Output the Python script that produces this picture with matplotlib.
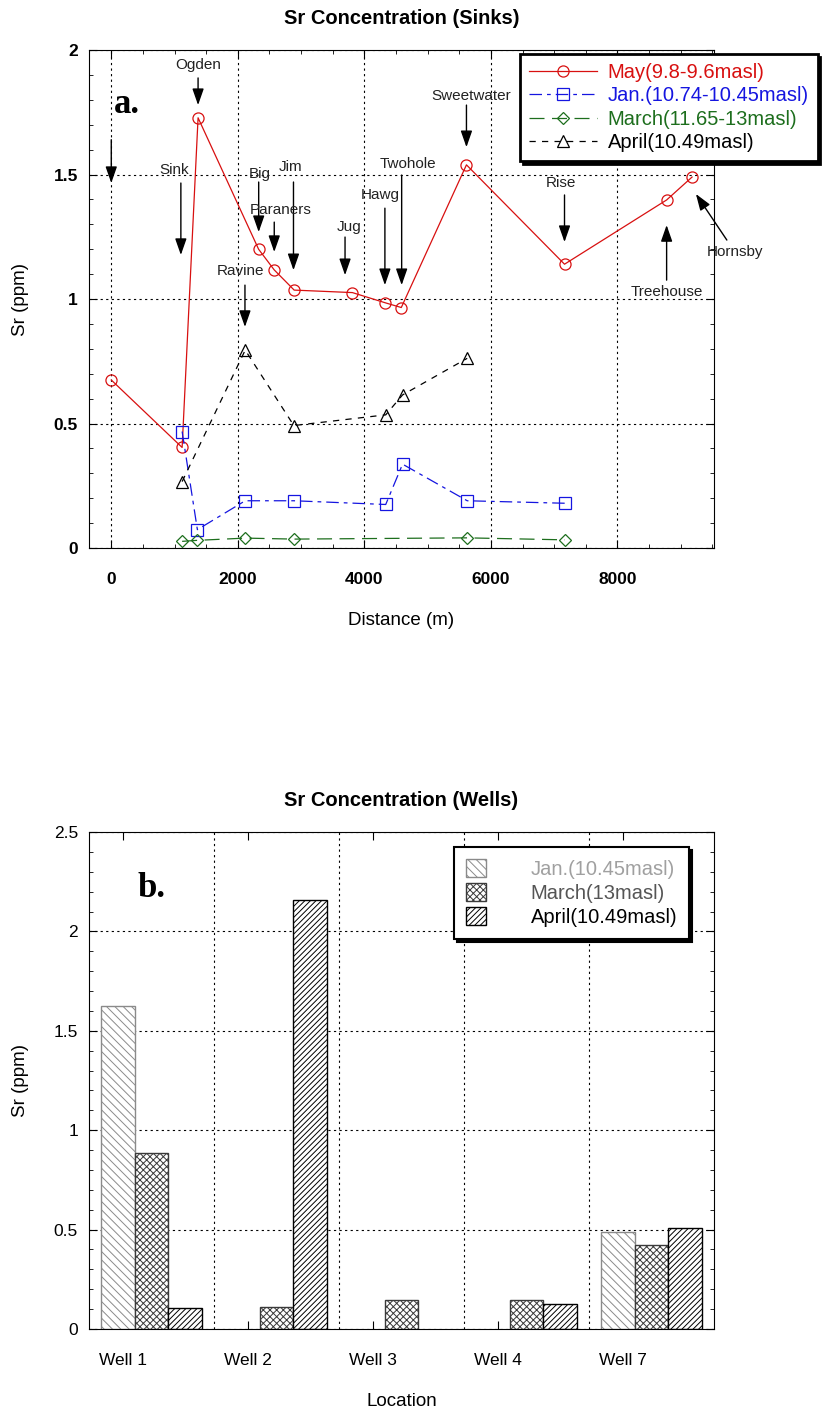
"""Sr concentration along the cave system (sinks) and in the wells."""

import matplotlib
matplotlib.use("Agg")
import matplotlib.pyplot as plt
import numpy as np
from matplotlib.ticker import MultipleLocator

plt.rcParams["font.family"] = ["Liberation Sans", "DejaVu Sans"]
plt.rcParams["hatch.linewidth"] = 0.7

# ---- panel a: sinks -------------------------------------------------------
may_x = [0, 1120, 1372, 2329, 2576, 2891, 3811, 4331, 4584, 5614, 7164, 8778, 9180]
may_sr = [0.675, 0.404, 1.728, 1.20, 1.117, 1.036, 1.026, 0.985, 0.966, 1.539,
          1.14, 1.398, 1.49]

jan_x = [1120, 1361, 2117, 2886, 4338, 4604, 5626, 7169]
jan_sr = [0.468, 0.074, 0.19, 0.19, 0.175, 0.337, 0.19, 0.18]

march_x = [1120, 1361, 2117, 2886, 5626, 7169]
march_sr = [0.027, 0.031, 0.040, 0.036, 0.041, 0.033]

april_x = [1120, 2117, 2886, 4338, 4604, 5626]
april_sr = [0.267, 0.795, 0.492, 0.535, 0.615, 0.762]

# site labels: (text, tail x, tail y, tip x, tip y, label x, label y)
sites = [
    ("", 0, 1.64, 0, 1.466, 0, 1.7),
    ("Sink", 1100, 1.466, 1100, 1.177, 1000, 1.518),
    ("Ogden", 1372, 1.888, 1372, 1.779, 1372, 1.94),
    ("Big", 2330, 1.47, 2330, 1.269, 2350, 1.502),
    ("Jim", 2880, 1.47, 2880, 1.116, 2835, 1.53),
    ("Paraners", 2576, 1.309, 2576, 1.189, 2670, 1.357),
    ("Ravine", 2113, 1.056, 2113, 0.888, 2050, 1.112),
    ("Jug", 3695, 1.249, 3695, 1.096, 3755, 1.289),
    ("Hawg", 4325, 1.365, 4325, 1.056, 4255, 1.418),
    ("Twohole", 4590, 1.498, 4590, 1.056, 4685, 1.542),
    ("Sweetwater", 5614, 1.779, 5614, 1.61, 5695, 1.815),
    ("Rise", 7164, 1.418, 7164, 1.229, 7110, 1.466),
    ("Treehouse", 8778, 1.076, 8778, 1.297, 8780, 1.028),
    ("Hornsby", 9730, 1.237, 9241, 1.422, 9860, 1.189),
]

# ---- panel b: wells -------------------------------------------------------
wells = ["Well 1", "Well 2", "Well 3", "Well 4", "Well 7"]
wells_jan = [1.626, np.nan, np.nan, np.nan, 0.488]
wells_march = [0.886, 0.111, 0.148, 0.148, 0.421]
wells_april = [0.106, 2.16, np.nan, 0.128, 0.507]

fig = plt.figure(figsize=(8.33, 14.14), dpi=100)

# ===================== panel a =====================
ax = fig.add_axes([0.107, 0.6124, 0.750, 0.3522])
l_may, = ax.plot(may_x, may_sr, "-", color="#d81010", lw=0.9, marker="o",
                 ms=8, mfc="none", mec="#d81010", mew=0.9)
l_jan, = ax.plot(jan_x, jan_sr, color="#1515e0", lw=0.9, dashes=(10, 4, 3, 4),
                 marker="s", ms=9, mfc="none", mec="#1515e0", mew=0.9)
l_mar, = ax.plot(march_x, march_sr, color="#1d6e1d", lw=0.9, dashes=(12, 6),
                 marker="D", ms=6, mfc="none", mec="#1d6e1d", mew=0.9)
l_apr, = ax.plot(april_x, april_sr, color="black", lw=0.9, dashes=(5, 5),
                 marker="^", ms=8, mfc="none", mec="black", mew=0.9)

for name, x0, y0, x1, y1, tx, ty in sites:
    ax.annotate("", xy=(x1, y1), xytext=(x0, y0), annotation_clip=False,
                arrowprops=dict(arrowstyle="-|>,head_length=1.0,head_width=0.35",
                                color="black", lw=1.0, shrinkA=0, shrinkB=0))
    if name:
        ax.text(tx, ty, name, ha="center", va="center", fontsize=11,
                color="#222222")

ax.text(0.061, 0.89, "a.", transform=ax.transAxes, ha="center", va="center",
        fontsize=25, fontweight="bold", family="Liberation Serif")

ax.set_xlim(-350, 9525)
ax.set_ylim(0, 2)
ax.xaxis.set_major_locator(MultipleLocator(2000))
ax.xaxis.set_minor_locator(MultipleLocator(500))
ax.yaxis.set_major_locator(MultipleLocator(0.5))
ax.yaxis.set_minor_locator(MultipleLocator(0.1))
ax.set_yticks([0, 0.5, 1, 1.5, 2], ["0", "0.5", "1", "1.5", "2"])
ax.tick_params(which="both", direction="in", top=True, right=True)
ax.tick_params(which="major", length=6, labelsize=12.5, pad=8)
ax.tick_params(axis="x", which="major", pad=17)
ax.tick_params(which="minor", length=3)
for lab in ax.get_xticklabels() + ax.get_yticklabels():
    lab.set_fontweight("bold")
ax.grid(True, which="major", ls=(0, (2, 3)), color="black", lw=0.8)
ax.set_xlabel("Distance (m)", fontsize=13.5, labelpad=18)
ax.set_ylabel("Sr (ppm)", fontsize=13.5, labelpad=18)
ax.set_title("Sr Concentration (Sinks)", fontsize=14.5, fontweight="bold",
             pad=19)

leg = fig.legend([l_may, l_jan, l_mar, l_apr],
                 ["May(9.8-9.6masl)", "Jan.(10.74-10.45masl)",
                  "March(11.65-13masl)", "April(10.49masl)"],
                 loc="upper left", bbox_to_anchor=(0.612, 0.969),
                 fontsize=14.5, frameon=True, fancybox=False,
                 shadow={"color": "black", "alpha": 1}, handlelength=3.4,
                 labelspacing=0.22, borderpad=0.45, handletextpad=0.5)
leg.get_frame().set_edgecolor("black")
leg.get_frame().set_linewidth(2)
for txt, c in zip(leg.get_texts(), ["#d81010", "#1515e0", "#1d6e1d", "black"]):
    txt.set_color(c)

# ===================== panel b =====================
bx = fig.add_axes([0.107, 0.0601, 0.750, 0.3515])
pos = np.arange(len(wells))
w = 0.268
b_jan = bx.bar(pos - w, wells_jan, w, color="white", edgecolor="#8a8a8a",
               hatch="\\\\\\\\", lw=1.0)
b_mar = bx.bar(pos, wells_march, w, color="white", edgecolor="#3a3a3a",
               hatch="xxxxx", lw=1.0)
b_apr = bx.bar(pos + w, wells_april, w, color="white", edgecolor="black",
               hatch="//////", lw=1.0)

bx.set_xlim(-0.5, 4.5)
bx.set_ylim(0, 2.5)
bx.set_xticks(pos - 0.23, wells)
bx.yaxis.set_major_locator(MultipleLocator(0.5))
bx.yaxis.set_minor_locator(MultipleLocator(0.1))
bx.set_yticks([0, 0.5, 1, 1.5, 2, 2.5], ["0", "0.5", "1", "1.5", "2", "2.5"])
bx.tick_params(which="both", direction="in", top=True, right=True)
bx.tick_params(which="major", length=6, labelsize=12.5, pad=8)
bx.tick_params(axis="x", which="major", pad=17)
bx.tick_params(which="minor", length=3)
bx.grid(True, axis="y", which="major", ls=(0, (2, 3)), color="black", lw=0.8)
for b in pos[:-1] + 0.5:
    bx.axvline(b, ls=(0, (2, 3)), color="black", lw=0.8, zorder=0)
bx.set_axisbelow(True)
bx.set_xlabel("Location", fontsize=13.5, labelpad=18)
bx.set_ylabel("Sr (ppm)", fontsize=13.5, labelpad=18)
bx.set_title("Sr Concentration (Wells)", fontsize=14.5, fontweight="bold",
             pad=19)
bx.text(0.1, 0.887, "b.", transform=bx.transAxes, ha="center", va="center",
        fontsize=25, fontweight="bold", family="Liberation Serif")

leg2 = bx.legend([b_jan, b_mar, b_apr],
                 ["Jan.(10.45masl)", "March(13masl)", "April(10.49masl)"],
                 loc="upper left", bbox_to_anchor=(0.584, 0.97),
                 fontsize=14.5, frameon=True, fancybox=False,
                 shadow={"color": "black", "alpha": 1}, handlelength=1.0,
                 handleheight=1.0, labelspacing=0.2, borderpad=0.6,
                 handletextpad=2.2, borderaxespad=0)
leg2.get_frame().set_edgecolor("black")
leg2.get_frame().set_linewidth(1.5)
for txt, c in zip(leg2.get_texts(), ["#a0a0a0", "#555555", "black"]):
    txt.set_color(c)

fig.savefig("out.png", dpi=100)
